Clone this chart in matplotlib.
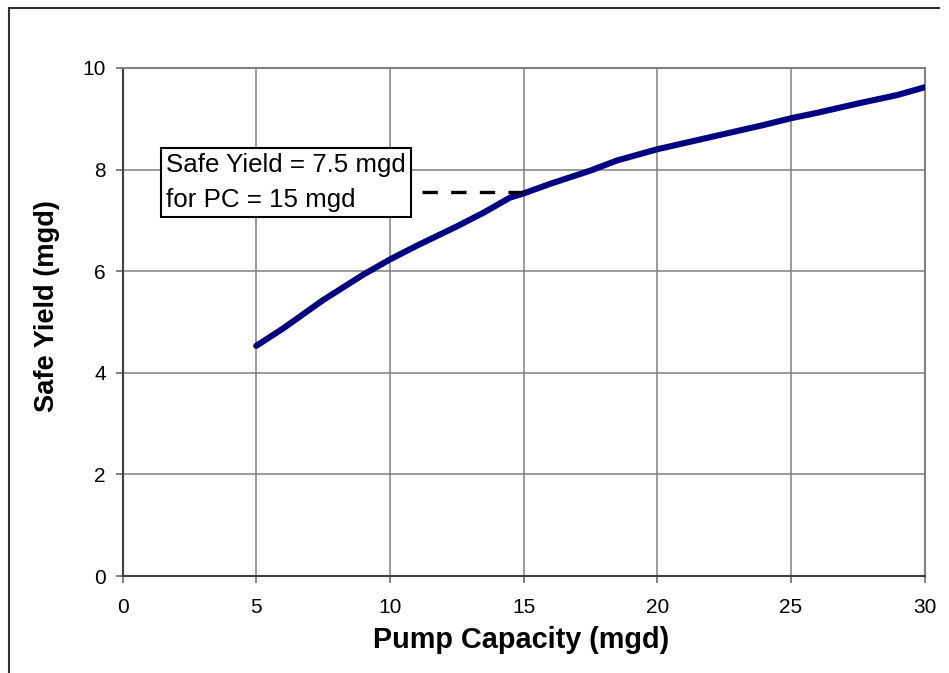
import matplotlib
matplotlib.use("Agg")
import matplotlib.pyplot as plt
from matplotlib.lines import Line2D

plt.rcParams['font.family'] = ['Liberation Sans', 'DejaVu Sans']

# Data
pump_capacity = [5, 6, 7.5, 9, 10, 11, 12.5, 13.5, 14.5, 15, 16, 17.5, 18.5,
                 20, 21, 22.5, 24, 25, 26, 27.5, 29, 30]
safe_yield = [4.53, 4.87, 5.43, 5.93, 6.23, 6.50, 6.88, 7.15, 7.45, 7.53, 7.72,
              7.98, 8.18, 8.40, 8.52, 8.70, 8.88, 9.01, 9.12, 9.30, 9.47, 9.62]
x_ticks = [0, 5, 10, 15, 20, 25, 30]
y_ticks = [0, 2, 4, 6, 8, 10]
marker_x = [11.2, 15]
marker_y = [7.55, 7.55]
annot_text = "Safe Yield = 7.5 mgd\nfor PC = 15 mgd"

W, H = 949, 673
fig = plt.figure(figsize=(W / 100, H / 100), dpi=100)
ax = fig.add_axes([122.5 / W, 1 - 576 / H, (924.5 - 122.5) / W, (576 - 68) / H])

ax.set_xlim(0, 30)
ax.set_ylim(0, 10)
ax.set_xticks(x_ticks)
ax.set_yticks(y_ticks)
ax.grid(True, color='#808080', linewidth=1.1)
ax.set_axisbelow(True)

for s in ['top', 'right']:
    ax.spines[s].set_color('#808080')
    ax.spines[s].set_linewidth(1.5)
for s in ['left', 'bottom']:
    ax.spines[s].set_color('#404040')
    ax.spines[s].set_linewidth(1.5)

ax.tick_params(axis='both', direction='out', length=5, width=1.1, color='#606060',
               labelsize=15, labelcolor='black')
ax.tick_params(axis='x', pad=11)
ax.tick_params(axis='y', pad=7)

ax.plot(pump_capacity, safe_yield, color='#000080', linewidth=4.4,
        solid_capstyle='round', solid_joinstyle='round', zorder=3)
ax.plot(marker_x, marker_y, color='black', linewidth=2.4, dashes=(4.6, 4.0), zorder=3)

# annotation box
ax.text(1.63, 7.74, annot_text, fontsize=18.6, va='center', ha='left',
        linespacing=1.58, zorder=4,
        bbox=dict(boxstyle='square,pad=0.2', facecolor='white', edgecolor='black',
                  linewidth=1.5))

fig.text(521.5 / W, 1 - 640 / H, 'Pump Capacity (mgd)', fontsize=20.8,
         fontweight='bold', ha='center', va='center')
fig.text(47 / W, 1 - 306.5 / H, 'Safe Yield (mgd)', fontsize=19.6,
         fontweight='bold', ha='center', va='center', rotation=90)

# outer frame (top and left edges visible)
fig.add_artist(Line2D([9 / W, 939 / W], [1 - 8 / H, 1 - 8 / H],
                      transform=fig.transFigure, color='#303030', linewidth=1.5))
fig.add_artist(Line2D([9 / W, 9 / W], [1 - 8 / H, 0],
                      transform=fig.transFigure, color='#303030', linewidth=1.5))

fig.savefig('out.png', dpi=100)
